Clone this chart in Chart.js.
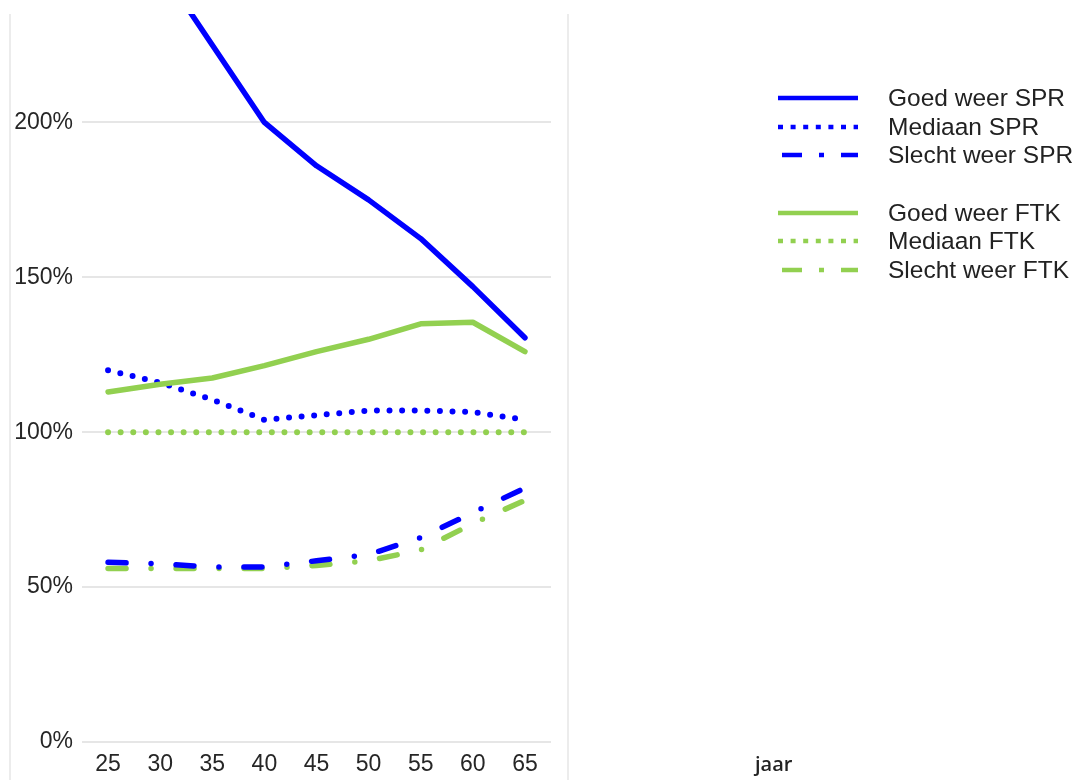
<!DOCTYPE html>
<html>
<head>
<meta charset="utf-8">
<script src="https://cdn.jsdelivr.net/npm/chart.js@4"></script>
<style>
  body { margin: 0; background: #fff; }
  #wrap { position: relative; width: 1087px; height: 780px; overflow: hidden; }
  #myChart { position: absolute; left: 0; top: 0; }
  .vline { position: absolute; top: 14px; width: 2px; height: 766px; background: #ececec; }
  #legend { position: absolute; left: 778px; top: 84px; font-family: "Liberation Sans", Arial, sans-serif; font-size: 24.5px; color: #222; }
  .row { position: relative; height: 28.5px; }
  .row svg { position: absolute; left: 0; top: 9px; }
  .row span { position: absolute; left: 110px; top: 0px; white-space: nowrap; }
  .gap { height: 29px; }
  #xtitle { position: absolute; left: 755px; top: 750px; font-family: "Open Sans", sans-serif; font-weight: 600; font-size: 20px; color: #222; }
</style>
</head>
<body>
<div id="wrap">
  <div class="vline" style="left:9px"></div>
  <div class="vline" style="left:567px"></div>
  <canvas id="myChart" width="1087" height="780"></canvas>
  <div id="legend"></div>
  <div id="xtitle">jaar</div>
</div>
<script>
// leeftijd (jaar)
const ages = ['25', '30', '35', '40', '45', '50', '55', '60', '65'];

// SPR scenario's (%)
const goedSPR    = [280, 250, 225, 200, 186, 175, 162.5, 147, 130.5];
const mediaanSPR = [120, 116, 110.5, 104, 105.5, 107, 107, 106.5, 104];
const slechtSPR  = [58, 57.5, 56.5, 56.5, 58.5, 60.5, 66, 74, 82];

// FTK scenario's (%)
const goedFTK    = [113, 115.5, 117.5, 121.5, 126, 130, 135, 135.5, 126];
const mediaanFTK = [100, 100, 100, 100, 100, 100, 100, 100, 100];
const slechtFTK  = [56, 56, 56, 56, 57, 58.5, 62, 70.5, 78];

const yTicks = [0, 50, 100, 150, 200];

const blue = '#0000ff';
const green = '#92d050';

const DOT = [0, 12.6];
const DASHDOT = [18, 25, 0, 25];

function makeSet(label, data, color, dash, order) {
    return {
        label: label,
        data: data,
        borderColor: color,
        backgroundColor: color,
        borderWidth: dash === DOT ? 6 : 5.5,
        borderDash: dash,
        borderCapStyle: 'round',
        borderJoinStyle: 'round',
        pointRadius: 0,
        tension: 0,
        fill: false,
        clip: 0,
        order: order
    };
}

const datasets = [
    makeSet('Goed weer SPR', goedSPR, blue, [], 2),
    makeSet('Mediaan SPR', mediaanSPR, blue, DOT, 4),
    makeSet('Slecht weer SPR', slechtSPR, blue, DASHDOT, 1),
    makeSet('Goed weer FTK', goedFTK, green, [], 3),
    makeSet('Mediaan FTK', mediaanFTK, green, DOT, 5),
    makeSet('Slecht weer FTK', slechtFTK, green, DASHDOT, 6)
];

const tickFont = { family: '"Liberation Sans", Arial, sans-serif', size: 23 };

const ctx = document.getElementById('myChart').getContext('2d');
const chart = new Chart(ctx, {
    type: 'line',
    data: { labels: ages, datasets: datasets },
    options: {
        responsive: false,
        animation: false,
        layout: { padding: { left: 0, right: 536, top: 14, bottom: 0 } },
        plugins: { legend: { display: false }, tooltip: { enabled: false } },
        scales: {
            x: {
                offset: true,
                grid: { display: false },
                border: { display: false },
                ticks: { color: '#262626', font: tickFont, padding: 1, maxRotation: 0 },
                afterFit: function(scale) {
                    scale.height = 38;
                    scale.paddingLeft = 0;
                    scale.paddingRight = 0;
                }
            },
            y: {
                min: 0,
                max: 235,
                grid: { color: '#e6e6e6', lineWidth: 2, drawTicks: false },
                border: { display: false },
                afterBuildTicks: function(scale) {
                    scale.ticks = yTicks.map(v => ({ value: v }));
                },
                ticks: {
                    color: '#262626',
                    font: tickFont,
                    padding: 9,
                    callback: v => v + '%'
                },
                afterFit: function(scale) {
                    scale.width = 82;
                    scale.paddingTop = 0;
                    scale.paddingBottom = 0;
                }
            }
        }
    }
});

// legenda met lege regel tussen SPR en FTK
function buildLegend() {
    const legend = document.getElementById('legend');
    datasets.forEach((ds, i) => {
        if (i === 3) {
            const gap = document.createElement('div');
            gap.className = 'gap';
            legend.appendChild(gap);
        }
        const row = document.createElement('div');
        row.className = 'row';
        let dash = '';
        let x1 = 0;
        if (ds.borderDash === DOT) dash = 'stroke-dasharray="5 7.6"';
        if (ds.borderDash === DASHDOT) { dash = 'stroke-dasharray="20 17 5 17"'; x1 = 4; }
        row.innerHTML =
            '<svg width="80" height="10"><line x1="' + x1 + '" y1="5" x2="80" y2="5" stroke="' +
            ds.borderColor + '" stroke-width="4.5" ' + dash + '/></svg>' +
            '<span>' + ds.label + '</span>';
        legend.appendChild(row);
    });
}
buildLegend();
</script>
</body>
</html>
